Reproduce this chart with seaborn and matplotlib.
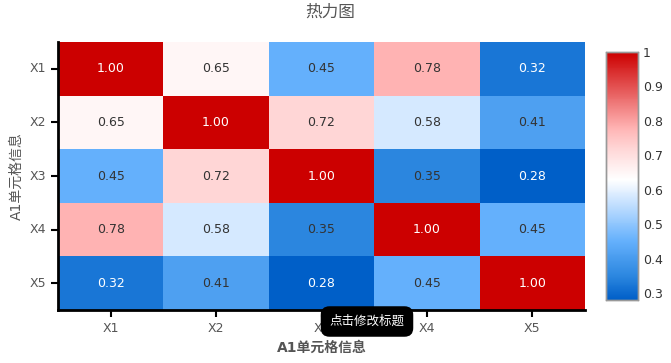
import seaborn as sns
import matplotlib.pyplot as plt
import pandas as pd
from matplotlib.colors import LinearSegmentedColormap

labels = ['X1', 'X2', 'X3', 'X4', 'X5']
row_x1 = [1.00, 0.65, 0.45, 0.78, 0.32]
row_x2 = [0.65, 1.00, 0.72, 0.58, 0.41]
row_x3 = [0.45, 0.72, 1.00, 0.35, 0.28]
row_x4 = [0.78, 0.58, 0.35, 1.00, 0.45]
row_x5 = [0.32, 0.41, 0.28, 0.45, 1.00]

df = pd.DataFrame([row_x1, row_x2, row_x3, row_x4, row_x5], index=labels, columns=labels)

sns.set_style('white')
plt.rcParams['font.family'] = ['DejaVu Sans', 'Noto Sans CJK SC']

vmin, vmax = 0.28, 1.0
def pos(v):
    return (v - vmin) / (vmax - vmin)

cmap = LinearSegmentedColormap.from_list('bwr_like', [
    (0.0, '#005fc8'),
    (pos(0.35), '#2c87e0'),
    (pos(0.45), '#64b0fc'),
    (pos(0.58), '#d6e9ff'),
    (pos(0.63), '#ffffff'),
    (pos(0.72), '#ffd6d6'),
    (pos(0.78), '#ffb3b3'),
    (1.0, '#cc0000'),
])

fig = plt.figure(figsize=(6.71, 3.63), dpi=100)
ax = fig.add_axes([58 / 671, 1 - 310 / 363, (585 - 58) / 671, (310 - 42) / 363])
cax = fig.add_axes([606 / 671, 1 - 300 / 363, 32 / 671, (300 - 52) / 363])

sns.heatmap(df, ax=ax, cbar_ax=cax, cmap=cmap, vmin=vmin, vmax=vmax,
            annot=True, fmt='.2f', annot_kws={'fontsize': 9})

# white text on the dark cells
for t in ax.texts:
    v = float(t.get_text())
    t.set_color('white' if (v >= 0.99 or v <= 0.33) else '#333333')

ax.tick_params(axis='both', length=5, width=1.5, color='black', labelsize=9,
               labelcolor='#555555', left=True, bottom=True)
ax.set_yticklabels(labels, rotation=0)
ax.set_xticklabels(labels, rotation=0)
for s in ['left', 'bottom']:
    ax.spines[s].set_visible(True)
    ax.spines[s].set_color('black')
    ax.spines[s].set_linewidth(2)

ax.set_ylabel('A1单元格信息', fontsize=10, color='#555555')
ax.set_xlabel('A1单元格信息', fontsize=10, color='#555555', fontweight='bold')

cax.set_yticks([0.3, 0.4, 0.5, 0.6, 0.7, 0.8, 0.9, 1.0])
cax.set_yticklabels(['0.3', '0.4', '0.5', '0.6', '0.7', '0.8', '0.9', '1'])
cax.tick_params(length=0, labelsize=9, labelcolor='#333333')
for s in cax.spines.values():
    s.set_visible(True)
    s.set_color('#999999')
    s.set_linewidth(1)

fig.text(330 / 671, 1 - 12 / 363, '热力图', ha='center', va='center', fontsize=12, color='#555555')

# tooltip
fig.text(367 / 671, 1 - 321.5 / 363, '点击修改标题', ha='center', va='center', fontsize=9,
         color='white', bbox=dict(boxstyle='round,pad=0.7', fc='black', ec='none'))

fig.savefig('out.png', dpi=100)
